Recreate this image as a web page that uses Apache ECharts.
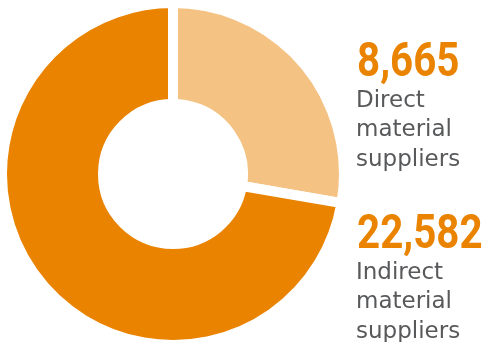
<!DOCTYPE html>
<html>
<head>
<meta charset="utf-8">
<script src="https://cdn.jsdelivr.net/npm/echarts@6/dist/echarts.min.js"></script>
<style>
  html, body { margin: 0; padding: 0; background: #fff; }
  #container { width: 487px; height: 342px; }
</style>
</head>
<body>
<div id="container"></div>
<script>
var dom = document.getElementById("container");
var myChart = echarts.init(dom, null, { renderer: 'canvas' });

// data
var categories = ['Direct\nmaterial\nsuppliers', 'Indirect\nmaterial\nsuppliers'];
var values = [8665, 22582];
var colors = ['#F4C283', '#E98300'];

var pieData = values.map(function (v, i) {
    return { value: v, name: categories[i], itemStyle: { color: colors[i] } };
});

// text blocks on the right, one per category
var blockTop = [60, 232];
var graphics = [];
values.forEach(function (v, i) {
    graphics.push({
        type: 'text',
        x: 357,
        y: blockTop[i] + 4,
        scaleX: 0.84,
        style: {
            text: v.toLocaleString('en-US'),
            fill: '#E98300',
            font: 'bold 48px Roboto, "Liberation Sans", sans-serif',
            verticalAlign: 'middle'
        }
    });
    graphics.push({
        type: 'text',
        left: 356,
        top: blockTop[i] + 26,
        style: {
            text: categories[i],
            fill: '#58595B',
            font: '23px "DejaVu Sans", sans-serif',
            lineHeight: 29.5
        }
    });
});

var option = {
    animation: false,
    graphic: graphics,
    series: [
        {
            name: 'Suppliers',
            type: 'pie',
            center: [173, 174],
            radius: [70, 171],
            startAngle: 90,
            clockwise: true,
            silent: true,
            label: { show: false },
            labelLine: { show: false },
            itemStyle: {
                borderColor: '#fff',
                borderWidth: 10
            },
            data: pieData
        }
    ]
};

if (option && typeof option === "object") {
    myChart.setOption(option, true);
}
</script>
</body>
</html>
